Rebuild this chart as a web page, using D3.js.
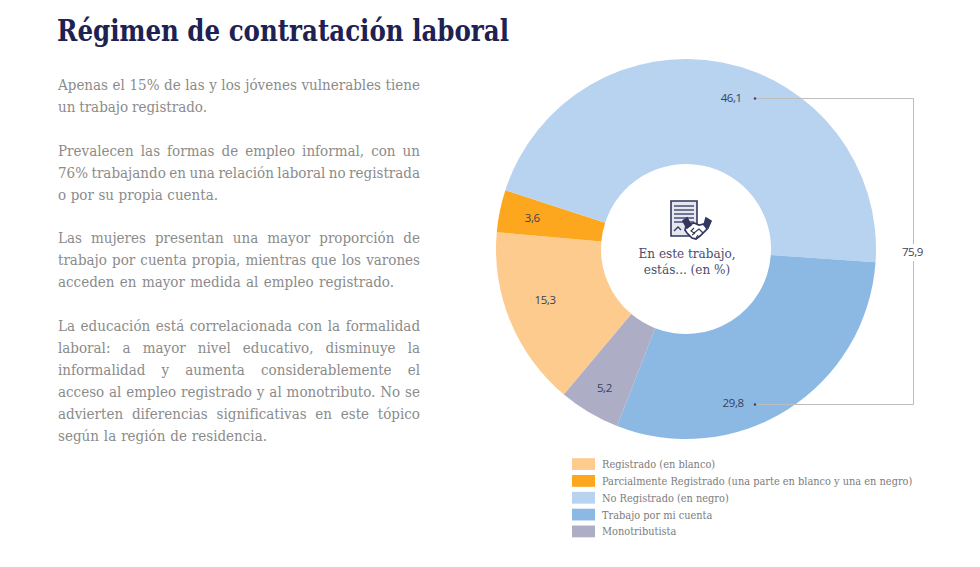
<!DOCTYPE html>
<html lang="es">
<head>
<meta charset="utf-8">
<title>Régimen de contratación laboral</title>
<script src="https://cdn.jsdelivr.net/npm/d3@7/dist/d3.min.js"></script>
<style>
  html, body { margin: 0; padding: 0; background: #fff; }
  svg { display: block; }
  text { font-family: "DejaVu Serif Condensed", "DejaVu Serif", "Liberation Serif", serif; }
  text.num { font-family: "Open Sans", "Noto Sans", sans-serif; }
</style>
</head>
<body>
<svg id="chart" width="980" height="567"></svg>
<script>
const titleText = "Régimen de contratación laboral";

const categories = [
  "Registrado (en blanco)",
  "Parcialmente Registrado (una parte en blanco y una en negro)",
  "No Registrado (en negro)",
  "Trabajo por mi cuenta",
  "Monotributista"
];
const values = [15.3, 3.6, 46.1, 29.8, 5.2];
const colors = ["#FDCB8E", "#FDA71F", "#B7D3EF", "#8CB9E4", "#AEADC6"];
const bracketTotal = 75.9;
const centerLines = ["En este trabajo,", "estás... (en %)"];

// Paragraph lines with the column edge each one runs to.
const bodyLines = [
  ["Apenas el 15% de las y los jóvenes vulnerables tiene", 420, 85],
  ["un trabajo registrado.", 207, 107],
  ["Prevalecen las formas de empleo informal, con un", 420, 151],
  ["76% trabajando en una relación laboral no registrada", 420, 173],
  ["o por su propia cuenta.", 218, 195],
  ["Las mujeres presentan una mayor proporción de", 420, 238],
  ["trabajo por cuenta propia, mientras que los varones", 420, 260],
  ["acceden en mayor medida al empleo registrado.", 394, 282],
  ["La educación está correlacionada con la formalidad", 420, 326],
  ["laboral: a mayor nivel educativo, disminuye la", 420, 348],
  ["informalidad y aumenta considerablemente el", 420, 370],
  ["acceso al empleo registrado y al monotributo. No se", 420, 392],
  ["advierten diferencias significativas en este tópico", 420, 414],
  ["según la región de residencia.", 267, 436]
];

const svg = d3.select("#chart");

svg.append("text")
  .attr("x", 57).attr("y", 41)
  .attr("font-size", 29).attr("font-weight", 700)
  .attr("fill", "#1D2252")
  .attr("textLength", 452).attr("lengthAdjust", "spacingAndGlyphs")
  .text(titleText);

// Body copy: word spacing is solved per line so each reaches its edge.
const bodyLeft = 58;
svg.append("g").attr("fill", "#8B8B8B").attr("font-size", 15)
  .selectAll("text").data(bodyLines).join("text")
  .attr("x", bodyLeft)
  .attr("y", d => d[2] + 5)
  .text(d => d[0])
  .each(function(d) {
    const natural = this.getComputedTextLength();
    const gaps = d[0].split(" ").length - 1;
    d3.select(this).attr("word-spacing", ((d[1] - bodyLeft - natural) / gaps).toFixed(2));
  });

// Donut
const cx = 686, cy = 249, outerR = 190, innerR = 85;
const startAngle = 220 * Math.PI / 180;
const pie = d3.pie().sort(null).startAngle(startAngle).endAngle(startAngle + 2 * Math.PI);
const arcs = pie(values);
const arc = d3.arc().innerRadius(innerR).outerRadius(outerR);
const donut = svg.append("g").attr("transform", `translate(${cx},${cy})`);

donut.selectAll("path").data(arcs).join("path")
  .attr("d", arc)
  .attr("fill", (d, i) => colors[i]);

// Value labels sit at a chosen fraction across each slice and radius.
const labelFraction = [0.545, 0.5, 0.534, 0.643, 0.49];
const labelRadius = [150, 157, 157.6, 161, 161];
const fmt = v => v.toFixed(1).replace(".", ",");
const labelPoint = (d, i) => {
  const a = d.startAngle + (d.endAngle - d.startAngle) * labelFraction[i];
  return [labelRadius[i] * Math.sin(a), -labelRadius[i] * Math.cos(a)];
};

// Bracket adding up the two informal slices
const topY = Math.round(cy + labelPoint(arcs[2], 2)[1]) + 0.5;
const botY = Math.round(cy + labelPoint(arcs[3], 3)[1]) + 1.5;
const bracketX = 913.5, tipX = 755;
svg.append("path")
  .attr("d", d3.line()([[tipX, topY], [bracketX, topY], [bracketX, botY], [tipX, botY]]))
  .attr("fill", "none").attr("stroke", "#BDBDBD").attr("stroke-width", 1);
svg.append("rect").attr("x", bracketX - 12).attr("y", 244).attr("width", 24).attr("height", 17).attr("fill", "#fff");
svg.append("text").attr("class", "num")
  .attr("x", bracketX - 1).attr("y", 256)
  .attr("text-anchor", "middle").attr("font-size", 11.5).attr("letter-spacing", -0.4).attr("fill", "#3C3F5C")
  .text(fmt(bracketTotal));
svg.selectAll("circle.tip").data([topY, botY]).join("circle")
  .attr("class", "tip").attr("cx", tipX).attr("cy", d => d).attr("r", 1.2).attr("fill", "#3C3F5C");

donut.selectAll("text.num").data(arcs).join("text")
  .attr("class", "num")
  .attr("text-anchor", "middle")
  .attr("font-size", 11.5)
  .attr("letter-spacing", -0.4)
  .attr("fill", "#3C3F5C")
  .attr("x", (d, i) => labelPoint(d, i)[0])
  .attr("y", (d, i) => labelPoint(d, i)[1] + 4)
  .text(d => fmt(d.value));

// Centre icon: a signed document and a handshake
const icon = svg.append("g").attr("fill", "none").attr("stroke", "#33365F").attr("stroke-width", 1.6);
icon.append("path").attr("d", "M671 201H697V236H671Z").attr("fill", "#E4E6F0");
icon.append("g").attr("stroke-width", 1.3)
  .selectAll("path").data([206, 210, 214, 218, 222]).join("path")
  .attr("d", d => `M674 ${d}H694`);
icon.append("path").attr("stroke-width", 1.3).attr("d", "M674 231l4-4 3 3");
const hands = icon.append("g").attr("fill", "#fff").attr("stroke-width", 1.7);
hands.append("path").attr("d", "M686 226l8-3 5 2 5-1 3 5-7 7-4 3-4-1-5-5-2-3z");
hands.append("path").attr("d", "M683 221l4-3 4 7-4 3zM706 218l5 3-3 7-4-3z").attr("fill", "#33365F");
hands.append("path").attr("stroke-width", 1.1).attr("d", "M694 228l-3 3 3 2 5-4 4 4M692 235l3-2M696 238l2-3");

svg.append("g").attr("text-anchor", "middle").attr("font-size", 13.4).attr("fill", "#4A4D6E")
  .selectAll("text").data(centerLines).join("text")
  .attr("x", cx + 1)
  .attr("y", (d, i) => 258 + i * 16)
  .text(d => d);

// Legend
const legendY = d3.scaleBand().domain(categories).range([456.5, 539]).paddingInner(0.3).paddingOuter(0.1);
const legend = svg.append("g").selectAll("g").data(categories).join("g")
  .attr("transform", d => `translate(572,${legendY(d)})`);
legend.append("rect")
  .attr("width", 23).attr("height", legendY.bandwidth())
  .attr("fill", (d, i) => colors[i]);
legend.append("text")
  .attr("x", 30)
  .attr("y", legendY.bandwidth() / 2 + 4)
  .attr("font-size", 10.9)
  .attr("fill", "#7C7C7C")
  .text(d => d);
</script>
</body>
</html>
